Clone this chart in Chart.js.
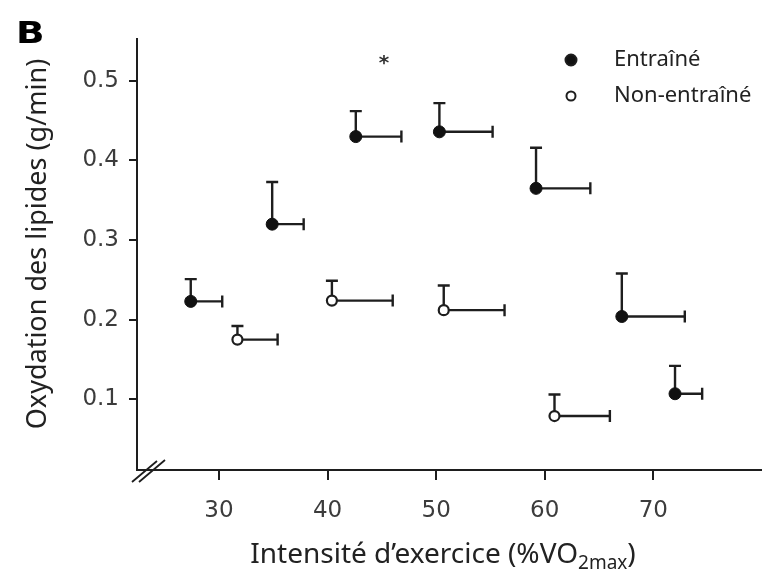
<!DOCTYPE html>
<html>
<head>
<meta charset="utf-8">
<script src="https://cdn.jsdelivr.net/npm/chart.js@4/dist/chart.umd.min.js"></script>
<style>
  html, body { margin: 0; padding: 0; background: #fff; }
  canvas { display: block; }
</style>
</head>
<body>
<canvas id="chart" width="768" height="577"></canvas>
<script>
// data
const xTicks = [30, 40, 50, 60, 70];
const yTicks = [0.1, 0.2, 0.3, 0.4, 0.5];

const trainedX    = [27.4, 34.9, 42.6, 50.3, 59.2, 67.1, 72.0];
const trainedY    = [0.223, 0.320, 0.430, 0.436, 0.365, 0.204, 0.107];
const trainedErrX = [2.9, 2.9, 4.2, 4.9, 5.0, 5.8, 2.5];
const trainedErrY = [0.028, 0.053, 0.032, 0.036, 0.051, 0.054, 0.035];

const untrainedX    = [31.7, 40.4, 50.7, 60.9];
const untrainedY    = [0.175, 0.224, 0.212, 0.079];
const untrainedErrX = [3.7, 5.6, 5.6, 5.1];
const untrainedErrY = [0.017, 0.025, 0.031, 0.027];

const starAt = [45.2, 0.522];

const ink = '#1e1e1e';
const titleFont = '"Noto Sans", "Open Sans", sans-serif';
const tickFont = '"DejaVu Sans", sans-serif';

function toPoints(xs, ys, ex, ey) {
    return xs.map((x, i) => ({ x: x, y: ys[i], ex: ex[i], ey: ey[i] }));
}

// error bars: up and right only, drawn before the markers
const errorBars = {
    id: 'errorBars',
    beforeDatasetsDraw(chart) {
        const ctx = chart.ctx;
        const xs = chart.scales.x, ys = chart.scales.y;
        const cap = 6;
        ctx.save();
        ctx.strokeStyle = ink;
        ctx.lineWidth = 2.4;
        chart.data.datasets.forEach(ds => {
            ds.data.forEach(p => {
                const px = xs.getPixelForValue(p.x);
                const py = ys.getPixelForValue(p.y);
                const top = ys.getPixelForValue(p.y + p.ey);
                const right = xs.getPixelForValue(p.x + p.ex);
                ctx.beginPath();
                ctx.moveTo(px, py); ctx.lineTo(px, top);
                ctx.moveTo(px - cap, top); ctx.lineTo(px + cap, top);
                ctx.moveTo(px, py); ctx.lineTo(right, py);
                ctx.moveTo(right, py - cap); ctx.lineTo(right, py + cap);
                ctx.stroke();
            });
        });
        ctx.restore();
    }
};

// titles, panel letter, legend, star and axis break
const decorations = {
    id: 'decorations',
    afterDraw(chart) {
        const ctx = chart.ctx;
        const area = chart.chartArea;
        const xs = chart.scales.x, ys = chart.scales.y;
        ctx.save();

        // panel letter (the figure is a little stretched sideways)
        ctx.save();
        ctx.fillStyle = '#000';
        ctx.font = 'bold 30px "DejaVu Sans", sans-serif';
        ctx.textAlign = 'left';
        ctx.textBaseline = 'alphabetic';
        ctx.translate(16, 43);
        ctx.scale(1.25, 1);
        ctx.fillText('B', 0, 0);
        ctx.restore();

        // y title
        ctx.save();
        ctx.translate(38, 244);
        ctx.rotate(-Math.PI / 2);
        ctx.font = '27px ' + titleFont;
        ctx.fillStyle = '#222';
        ctx.textAlign = 'center';
        ctx.textBaseline = 'middle';
        ctx.fillText('Oxydation des lipides (g/min)', 0, 0);
        ctx.restore();

        // x title with subscript
        const main = 'Intensité d’exercice (%VO';
        const sub = '2max';
        const end = ')';
        const bigF = '28px ' + titleFont, smallF = '19px ' + titleFont;
        ctx.font = bigF;
        const w1 = ctx.measureText(main).width;
        const w3 = ctx.measureText(end).width;
        ctx.font = smallF;
        const w2 = ctx.measureText(sub).width;
        let x0 = 443 - (w1 + w2 + w3) / 2;
        const base = 563;
        ctx.fillStyle = '#222';
        ctx.textAlign = 'left';
        ctx.textBaseline = 'alphabetic';
        ctx.font = bigF;
        ctx.fillText(main, x0, base);
        ctx.font = smallF;
        ctx.fillText(sub, x0 + w1, base + 6);
        ctx.font = bigF;
        ctx.fillText(end, x0 + w1 + w2, base);

        // legend
        const legendRows = [[60, 0], [96, 1]];
        legendRows.forEach(([ly, di]) => {
            const ds = chart.data.datasets[di];
            ctx.beginPath();
            ctx.arc(571, ly, di === 0 ? 5.5 : 4.5, 0, Math.PI * 2);
            ctx.fillStyle = ds.pointBackgroundColor;
            ctx.fill();
            ctx.lineWidth = 2;
            ctx.strokeStyle = ink;
            ctx.stroke();
            ctx.fillStyle = '#222';
            ctx.font = '22px ' + titleFont;
            ctx.textAlign = 'left';
            ctx.textBaseline = 'middle';
            ctx.fillText(ds.label, 614, ly);
        });

        // significance star
        ctx.fillStyle = '#333';
        ctx.font = 'bold 20px "DejaVu Sans", sans-serif';
        ctx.textAlign = 'center';
        ctx.textBaseline = 'middle';
        ctx.fillText('*', xs.getPixelForValue(starAt[0]), ys.getPixelForValue(starAt[1]));

        // axis break marks
        ctx.strokeStyle = ink;
        ctx.lineWidth = 1.8;
        ctx.beginPath();
        ctx.moveTo(area.left - 5, area.bottom + 12);
        ctx.lineTo(area.left + 20, area.bottom - 9);
        ctx.moveTo(area.left + 2, area.bottom + 12);
        ctx.lineTo(area.left + 28, area.bottom - 10);
        ctx.stroke();

        ctx.restore();
    }
};

new Chart(document.getElementById('chart'), {
    type: 'scatter',
    data: {
        datasets: [{
            label: 'Entraîné',
            data: toPoints(trainedX, trainedY, trainedErrX, trainedErrY),
            pointRadius: 6,
            pointBackgroundColor: '#111',
            pointBorderColor: '#111',
            pointBorderWidth: 1
        }, {
            label: 'Non-entraîné',
            data: toPoints(untrainedX, untrainedY, untrainedErrX, untrainedErrY),
            pointRadius: 5,
            pointBackgroundColor: '#fff',
            pointBorderColor: ink,
            pointBorderWidth: 2.2
        }]
    },
    options: {
        responsive: false,
        animation: false,
        devicePixelRatio: 1,
        layout: { padding: { top: 39, right: 3, left: 0, bottom: 0 } },
        plugins: {
            legend: { display: false },
            tooltip: { enabled: false }
        },
        scales: {
            x: {
                type: 'linear',
                min: 22.45,
                max: 79.9,
                afterBuildTicks: s => { s.ticks = xTicks.map(v => ({ value: v })); },
                afterFit: s => { s.height = 107; },
                border: { display: true, color: ink, width: 2 },
                grid: { drawOnChartArea: false, drawTicks: true, tickLength: 10, color: ink, lineWidth: 2 },
                ticks: {
                    padding: 17,
                    color: '#3c3c3c',
                    font: { family: tickFont, size: 23 },
                    callback: v => String(v)
                }
            },
            y: {
                type: 'linear',
                min: 0.0112,
                max: 0.5526,
                afterBuildTicks: s => { s.ticks = yTicks.map(v => ({ value: v })); },
                afterFit: s => { s.width = 137; },
                border: { display: true, color: ink, width: 2 },
                grid: { drawOnChartArea: false, drawTicks: true, tickLength: 8, color: ink, lineWidth: 2 },
                ticks: {
                    padding: 10,
                    color: '#3c3c3c',
                    font: { family: tickFont, size: 23 },
                    callback: v => v.toFixed(1)
                }
            }
        }
    },
    plugins: [errorBars, decorations]
});
</script>
</body>
</html>
